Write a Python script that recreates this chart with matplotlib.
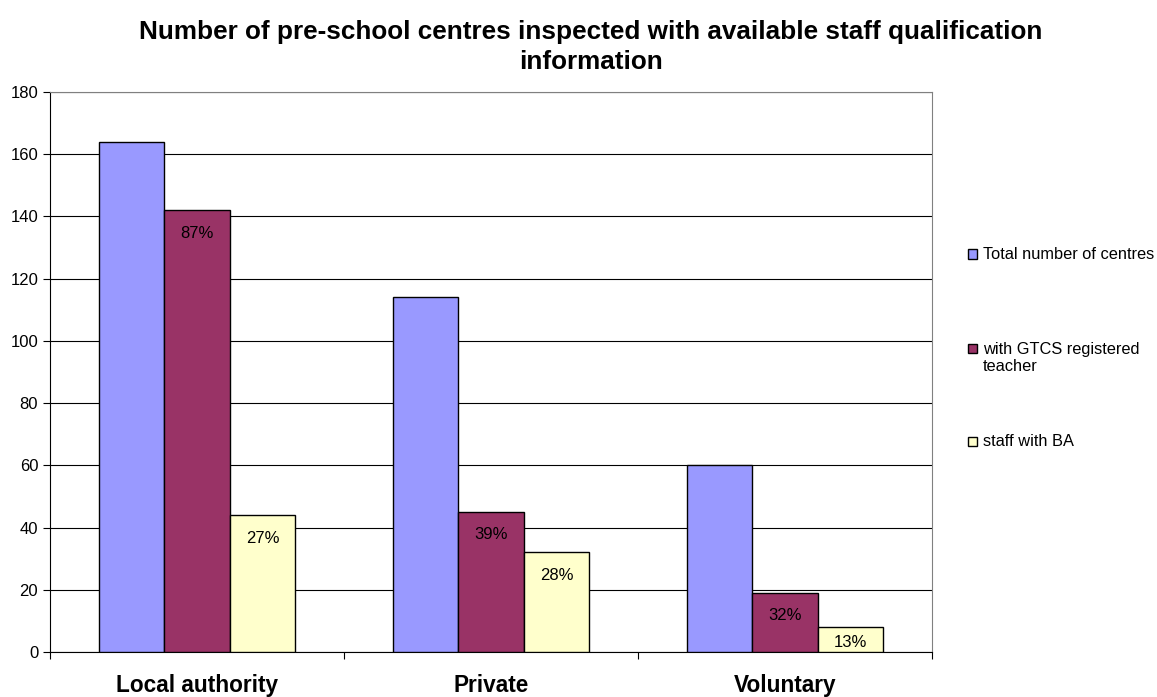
import matplotlib
matplotlib.use("Agg")
import matplotlib.pyplot as plt
from matplotlib.patches import Rectangle
import numpy as np

plt.rcParams['font.family'] = ['Liberation Sans', 'DejaVu Sans']

categories = ["Local authority", "Private", "Voluntary"]
series_names = ["Total number of centres", "with GTCS registered\nteacher", "staff with BA"]
total = [164, 114, 60]
gtcs = [142, 45, 19]
ba = [44, 32, 8]
gtcs_pct = ["87%", "39%", "32%"]
ba_pct = ["27%", "28%", "13%"]
colors = ["#9999FF", "#993366", "#FFFFCC"]

fig = plt.figure(figsize=(11.57, 6.97), dpi=100)
W, H = 1157, 697
ax = fig.add_axes([50 / W, 1 - 652 / H, (932 - 50) / W, (652 - 92) / H])

x = np.arange(len(categories))
bw = 0.223
vals = [total, gtcs, ba]
bars = []
for i, (v, c, n) in enumerate(zip(vals, colors, series_names)):
    b = ax.bar(x + (i - 1) * bw, v, bw, color=c, edgecolor="black", linewidth=1.0,
               label=n, zorder=3)
    bars.append(b)

for b, labs in ((bars[1], gtcs_pct), (bars[2], ba_pct)):
    for rect, lab in zip(b, labs):
        h = rect.get_height()
        off = -16.5 if h > 12 else -11
        ax.annotate(lab, (rect.get_x() + rect.get_width() / 2, h),
                    xytext=(0, off), textcoords="offset points",
                    ha="center", va="center", fontsize=12, color="black", zorder=4)

ax.set_xlim(-0.5, 2.5)
ax.set_ylim(0, 180)
ax.set_yticks(np.arange(0, 181, 20))
ax.yaxis.grid(True, color="black", linewidth=0.8, zorder=0)
ax.set_axisbelow(True)
ax.set_xticks([-0.5, 0.5, 1.5, 2.5], minor=False)
ax.set_xticklabels([])
ax.set_xticks(x, minor=True)
ax.set_xticklabels(categories, minor=True, fontsize=16.3, fontweight="bold")
ax.tick_params(axis="x", which="minor", length=0, pad=16)
ax.tick_params(axis="x", which="major", length=5, direction="out", width=0.8)
ax.tick_params(axis="y", length=5, direction="out", labelsize=12, width=0.8, pad=3.5)

for s in ["top", "right"]:
    ax.spines[s].set_color("#808080")
for s in ["left", "bottom"]:
    ax.spines[s].set_color("black")
for s in ax.spines.values():
    s.set_linewidth(0.8)

fig.text(591 / W, 1 - 47 / H,
         "Number of pre-school centres inspected with available staff qualification\ninformation",
         ha="center", va="center", fontsize=18.8, fontweight="bold", linespacing=1.32)

# legend (drawn in figure coordinates)
leg_y = [254, 348, 441]
text_y = [254, 358, 441]
for c, n, yc, ty in zip(colors, series_names, leg_y, text_y):
    fig.patches.append(Rectangle((968 / W, 1 - (yc + 4.5) / H), 9 / W, 9 / H,
                                 transform=fig.transFigure, facecolor=c,
                                 edgecolor="black", linewidth=1.0))
    fig.text(983 / W, 1 - ty / H, n, ha="left", va="center", fontsize=11.8,
             linespacing=1.2)

fig.savefig("out.png", dpi=100)
